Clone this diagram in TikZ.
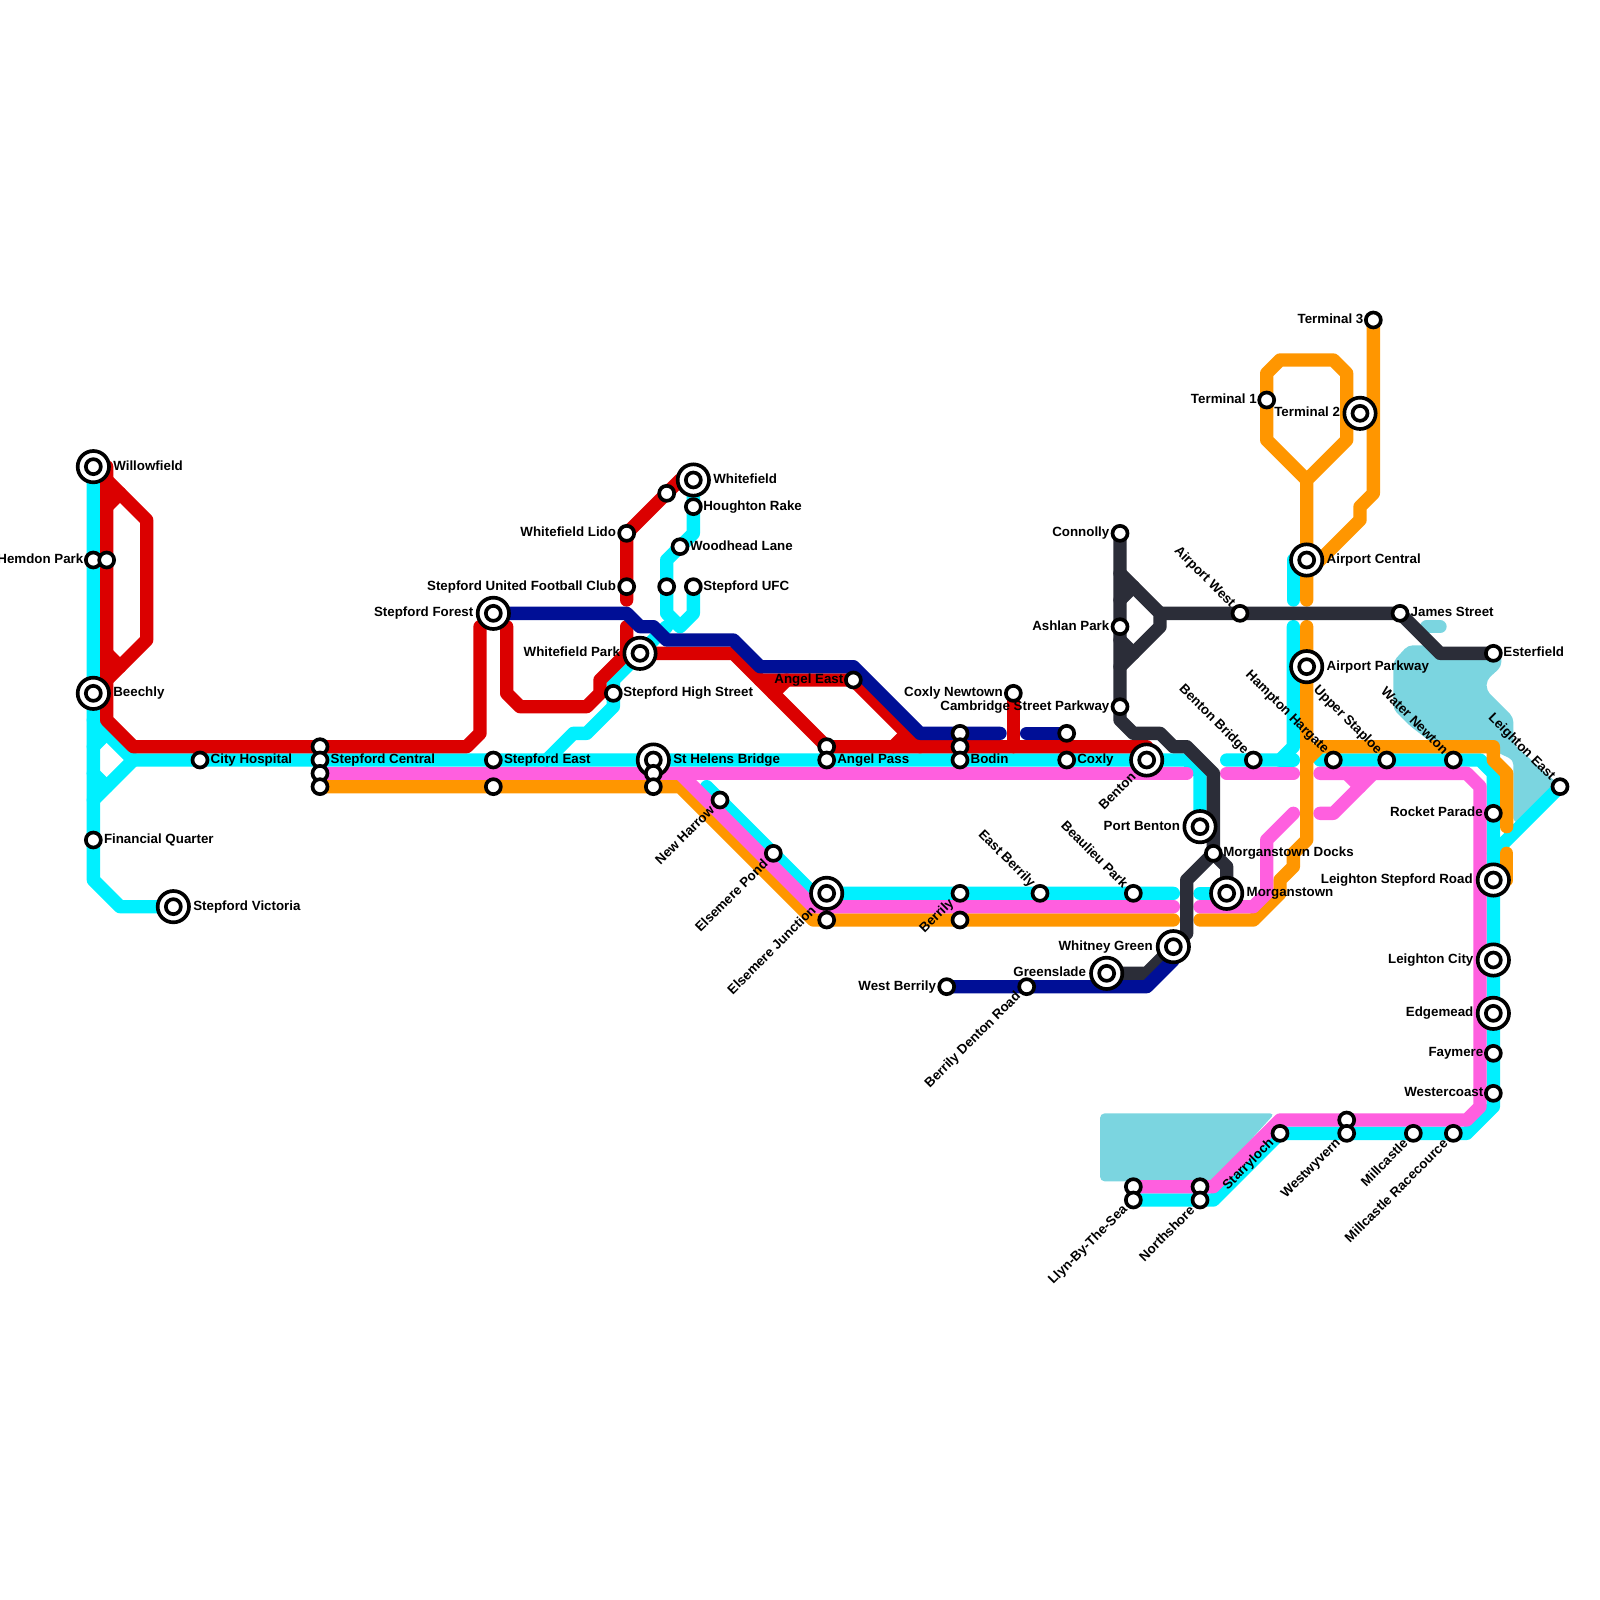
\documentclass[tikz,border=0pt]{standalone}
\usepackage{fontspec}
\setmainfont{Liberation Sans}
\definecolor{cCyan}{HTML}{00F0FF}
\definecolor{cPink}{HTML}{FF5FDF}
\definecolor{cOrange}{HTML}{FF9600}
\definecolor{cRed}{HTML}{DB0000}
\definecolor{cNavy}{HTML}{000F96}
\definecolor{cDark}{HTML}{2B2D38}
\definecolor{cWater}{HTML}{7BD5E0}
\pgfdeclarelayer{lines}
\pgfsetlayers{lines,main}
\tikzset{
  metro/.style={line width=.2cm,line cap=round,line join=round},
  cy/.style={metro,draw=cCyan},
  pk/.style={metro,draw=cPink},
  og/.style={metro,draw=cOrange},
  rd/.style={metro,draw=cRed},
  nv/.style={metro,draw=cNavy},
  dk/.style={metro,draw=cDark},
  waterbody/.style={fill=cWater,rounded corners=.7mm},
  stnsmall/.style={circle,draw=black,fill=white,line width=.055cm,minimum size=.225cm,inner sep=0pt},
  stnbig/.style={circle,draw=black,fill=white,line width=.055cm,minimum size=.47cm,inner sep=0pt},
  lbl/.style={font=\fontsize{5.69pt}{6pt}\selectfont\bfseries,text=black,inner sep=0pt,outer sep=0pt},
  lE/.style={lbl,anchor=base west},
  lW/.style={lbl,anchor=base east},
  lU/.style={lbl,anchor=east,rotate=45},
  lD/.style={lbl,anchor=east,rotate=-45},
}
\newcommand\stnS[3]{\node[stnsmall] (#1) at (#2,#3) {};}
\newcommand\stnI[3]{\node[stnbig] (#1) at (#2,#3) {};\node[stnsmall] (#1i) at (#2,#3) {};}
\newcommand\stnL[5]{\node[#2] (#1L) at ([shift={(#3,#4)}]#1.center) {#5};}
\begin{document}
\begin{tikzpicture}[x=.2cm,y=-.2cm]
\useasboundingbox (0,0) rectangle (120,120);
% interchanges
\stnI{wf}{7}{35}\stnI{be}{7}{52}\stnI{sv}{13}{68}\stnI{sf}{37}{46}\stnI{wp}{48}{49}\stnI{wh}{52}{36}
\stnI{sh}{49}{57}\stnI{ej}{62}{67}\stnI{bn}{86}{57}\stnI{pb}{90}{62}\stnI{mt}{92}{67}\stnI{wg}{88}{71}
\stnI{gs}{83}{73}\stnI{t2}{102}{31}\stnI{ac}{98}{42}\stnI{ap}{98}{50}\stnI{ls}{112}{66}\stnI{lc}{112}{72}\stnI{em}{112}{76}
% small stations
\stnS{hp}{7}{42}\stnS{hq}{8}{42}\stnS{fq}{7}{63}\stnS{ch}{15}{57}
\stnS{sca}{24}{56}\stnS{sc}{24}{57}\stnS{scb}{24}{58}\stnS{scc}{24}{59}
\stnS{se}{37}{57}\stnS{seb}{37}{59}\stnS{wl}{47}{40}\stnS{su}{47}{44}\stnS{wa}{50}{37}
\stnS{hr}{52}{38}\stnS{wd}{51}{41}\stnS{ub}{50}{44}\stnS{uf}{52}{44}\stnS{hs}{46}{52}
\stnS{shb}{49}{58}\stnS{shc}{49}{59}\stnS{nh}{54}{60}\stnS{ep}{58}{64}
\stnS{apa}{62}{56}\stnS{ag}{62}{57}\stnS{ejb}{62}{69}\stnS{ae}{64}{51}
\stnS{boa}{72}{55}\stnS{bob}{72}{56}\stnS{bo}{72}{57}\stnS{br}{72}{67}\stnS{brb}{72}{69}
\stnS{cn}{76}{52}\stnS{eb}{78}{67}\stnS{cxa}{80}{55}\stnS{cx}{80}{57}
\stnS{co}{84}{40}\stnS{as}{84}{47}\stnS{cs}{84}{53}\stnS{bp}{85}{67}
\stnS{wb}{71}{74}\stnS{bd}{77}{74}\stnS{md}{91}{64}\stnS{aw}{93}{46}
\stnS{bb}{94}{57}\stnS{hh}{100}{57}\stnS{us}{104}{57}\stnS{wn}{109}{57}
\stnS{js}{105}{46}\stnS{ef}{112}{49}\stnS{rp}{112}{61}\stnS{le}{117}{59}
\stnS{t1}{95}{30}\stnS{t3}{103}{24}\stnS{fm}{112}{79}\stnS{wc}{112}{82}
\stnS{sl}{96}{85}\stnS{wva}{101}{84}\stnS{wv}{101}{85}\stnS{mc}{106}{85}\stnS{mr}{109}{85}
\stnS{lla}{85}{89}\stnS{ll}{85}{90}\stnS{nsa}{90}{89}\stnS{ns}{90}{90}
% labels
\stnL{wf}{lE}{1.5}{.26}{Willowfield}
\stnL{hp}{lW}{-.75}{.26}{Hemdon Park}
\stnL{be}{lE}{1.5}{.26}{Beechly}
\stnL{fq}{lE}{.8}{.26}{Financial Quarter}
\stnL{sv}{lE}{1.5}{.26}{Stepford Victoria}
\stnL{ch}{lE}{.8}{.26}{City Hospital}
\stnL{sc}{lE}{.8}{.26}{Stepford Central}
\stnL{se}{lE}{.8}{.26}{Stepford East}
\stnL{sf}{lW}{-1.5}{.26}{Stepford Forest}
\stnL{su}{lW}{-.8}{.26}{Stepford United Football Club}
\stnL{wl}{lW}{-.8}{.26}{Whitefield Lido}
\stnL{wp}{lW}{-1.5}{.26}{Whitefield Park}
\stnL{wh}{lE}{1.5}{.26}{Whitefield}
\stnL{hr}{lE}{.75}{.26}{Houghton Rake}
\stnL{wd}{lE}{.75}{.26}{Woodhead Lane}
\stnL{uf}{lE}{.75}{.26}{Stepford UFC}
\stnL{hs}{lE}{.75}{.26}{Stepford High Street}
\stnL{sh}{lE}{1.5}{.26}{St Helens Bridge}
\stnL{ag}{lE}{.8}{.26}{Angel Pass}
\stnL{ae}{lW}{-.75}{.26}{Angel East}
\stnL{bo}{lE}{.8}{.26}{Bodin}
\stnL{cx}{lE}{.8}{.26}{Coxly}
\stnL{cn}{lW}{-.8}{.26}{Coxly Newtown}
\stnL{cs}{lW}{-.8}{.26}{Cambridge Street Parkway}
\stnL{co}{lW}{-.8}{.26}{Connolly}
\stnL{as}{lW}{-.8}{.26}{Ashlan Park}
\stnL{wg}{lW}{-1.55}{.26}{Whitney Green}
\stnL{gs}{lW}{-1.55}{.26}{Greenslade}
\stnL{wb}{lW}{-.8}{.26}{West Berrily}
\stnL{pb}{lW}{-1.5}{.26}{Port Benton}
\stnL{md}{lE}{.75}{.26}{Morganstown Docks}
\stnL{mt}{lE}{1.5}{.26}{Morganstown}
\stnL{t3}{lW}{-.75}{.26}{Terminal 3}
\stnL{t1}{lW}{-.75}{.26}{Terminal 1}
\stnL{t2}{lW}{-1.5}{.26}{Terminal 2}
\stnL{ac}{lE}{1.5}{.26}{Airport Central}
\stnL{ap}{lE}{1.5}{.26}{Airport Parkway}
\stnL{js}{lE}{.8}{.26}{James Street}
\stnL{ef}{lE}{.75}{.26}{Esterfield}
\stnL{rp}{lW}{-.8}{.26}{Rocket Parade}
\stnL{ls}{lW}{-1.55}{.26}{Leighton Stepford Road}
\stnL{lc}{lW}{-1.5}{.26}{Leighton City}
\stnL{em}{lW}{-1.5}{.26}{Edgemead}
\stnL{fm}{lW}{-.75}{.26}{Faymere}
\stnL{wc}{lW}{-.75}{.26}{Westercoast}
% rotated labels
\stnL{nh}{lU}{-.6}{.6}{New Harrow}
\stnL{ep}{lU}{-.6}{.6}{Elsemere Pond}
\stnL{ej}{lU}{-1}{1.1}{Elsemere Junction}
\stnL{br}{lU}{-.6}{.6}{Berrily}
\stnL{bd}{lU}{-.6}{.6}{Berrily Denton Road}
\stnL{bn}{lU}{-1}{1.1}{Benton}
\stnL{sl}{lU}{-.6}{.6}{Starryloch}
\stnL{wv}{lU}{-.6}{.6}{Westwyvern}
\stnL{mc}{lU}{-.6}{.6}{Millcastle}
\stnL{mr}{lU}{-.6}{.6}{Millcastle Racecource}
\stnL{ns}{lU}{-.6}{.6}{Northshore}
\stnL{ll}{lU}{-.6}{.6}{Llyn-By-The-Sea}
\stnL{aw}{lD}{-.55}{-.6}{Airport West}
\stnL{bb}{lD}{-.55}{-.6}{Benton Bridge}
\stnL{hh}{lD}{-.55}{-.6}{Hampton Hargate}
\stnL{us}{lD}{-.55}{-.6}{Upper Staploe}
\stnL{wn}{lD}{-.55}{-.6}{Water Newton}
\stnL{le}{lD}{-.55}{-.6}{Leighton East}
\stnL{eb}{lD}{-.55}{-.6}{East Berrily}
\stnL{bp}{lD}{-.55}{-.6}{Beaulieu Park}
% lines
\begin{pgfonlayer}{lines}
\path[waterbody] (82.5,83.5) -- (95.6,83.5) -- (91,88.6) -- (82.5,88.6) -- cycle;
\path[waterbody] (105.6,48.4) -- (107.5,48.4) -- (108.2,49) -- (112.6,49) -- (112.6,50) -- (111.5,51) -- (111.5,51.8) -- (113.5,53.8) -- (113.5,55.8) -- (117.3,59.2) -- (114.2,61.7) -- (113.5,61.7) -- (113.5,57) -- (111,55.8) -- (107.5,55.8) -- (105.7,54.4) -- (104.5,53.2) -- (104.5,49.6) -- cycle;
\draw[metro,draw=cWater] (107,47) -- (108,47);
% cyan
\draw[cy] (wf.center) -- (7,66) -- (9,68) -- (sv.center);
\draw[cy] (7,54) -- (10,57) -- (7,60);
\draw[cy] (7,56) -- (8,55);
\draw[cy] (7,58) -- (8,59);
\draw[cy] (10,57) -- (bn.center) -- (89,57) -- (90,58) -- (pb.center);
\draw[cy] (41,57) -- (43,55) -- (44,55) -- (46,53) -- (46,51) -- (50,47);
\draw[cy] (wh.center) -- (52,40) -- (50,42) -- (50,46) -- (51,47) -- (52,46) -- (uf.center);
\draw[cy] (53,59) -- (61,67) -- (88,67);
\draw[cy] (90,67) -- (mt.center);
\draw[cy] (97,42) -- (97,45);
\draw[cy] (97,47) -- (97,56) -- (96,57) -- (92,57);
\draw[cy] (96,57) -- (97,57);
\draw[cy] (99,57) -- (111,57) -- (112,58) -- (112,83) -- (110,85) -- (96,85) -- (91,90) -- (ll.center);
\draw[cy] (112,64) -- (le.center);
% orange
\draw[og] (scc.center) -- (51,59) -- (61,69) -- (88,69);
\draw[og] (90,69) -- (94,69) -- (96,67) -- (96,66) -- (97,65) -- (97,64) -- (98,63) -- (98,47);
\draw[og] (98,57) -- (99,56) -- (112,56) -- (112,57) -- (113,58) -- (113,62);
\draw[og] (113,64) -- (113,66);
\draw[og] (98,45) -- (98,36) -- (95,33) -- (95,28) -- (96,27) -- (100,27) -- (101,28) -- (101,33) -- (98,36);
\draw[og] (t3.center) -- (103,37) -- (102,38) -- (102,39) -- (98,43);
% pink
\draw[pk] (scb.center) -- (89,58);
\draw[pk] (51,58) -- (61,68) -- (88,68);
\draw[pk] (90,68) -- (94,68) -- (95,67) -- (95,63) -- (97,61);
\draw[pk] (92,58) -- (97,58);
\draw[pk] (99,58) -- (110,58) -- (111,59) -- (111,83) -- (110,84) -- (96,84) -- (91,89) -- (lla.center);
\draw[pk] (103,58) -- (100,61) -- (99,61);
\draw[pk] (101,58) -- (102,59);
% red
\draw[rd] (8,35) -- (8,54) -- (10,56) -- (35,56) -- (36,55) -- (36,47);
\draw[rd] (8,36) -- (11,39) -- (11,48) -- (8,51);
\draw[rd] (8,38) -- (9,37);
\draw[rd] (8,49) -- (9,50);
\draw[rd] (38,47) -- (38,52) -- (39,53) -- (44,53) -- (45,52) -- (45,51) -- (47,49) -- (47,47);
\draw[rd] (wp.center) -- (55,49) -- (62,56) -- (86,56);
\draw[rd] (57,51) -- (ae.center) -- (69,56);
\draw[rd] (58,52) -- (59,51);
\draw[rd] (67,56) -- (68,55);
\draw[rd] (cn.center) -- (76,56);
\draw[rd] (wh.center) -- (51,36) -- (wl.center) -- (47,45);
% dark
\draw[dk] (co.center) -- (84,54) -- (85,55) -- (87,55) -- (88,56) -- (89,56) -- (91,58) -- (md.center) -- (92,65) -- (mt.center);
\draw[dk] (md.center) -- (89,66) -- (89,70) -- (wg.center) -- (86,73) -- (gs.center);
\draw[dk] (84,43) -- (87,46) -- (87,47) -- (84,50);
\draw[dk] (84,45) -- (85,44);
\draw[dk] (84,48) -- (85,49);
\draw[dk] (87,46) -- (js.center) -- (108,49) -- (ef.center);
% navy
\draw[nv] (sf.center) -- (47,46) -- (48,47) -- (49,47) -- (50,48) -- (55,48) -- (57,50) -- (64,50) -- (69,55) -- (75,55);
\draw[nv] (77,55) -- (cxa.center);
\draw[nv] (wb.center) -- (86,74) -- (88,72) -- (wg.center);
\end{pgfonlayer}
\end{tikzpicture}
\end{document}
